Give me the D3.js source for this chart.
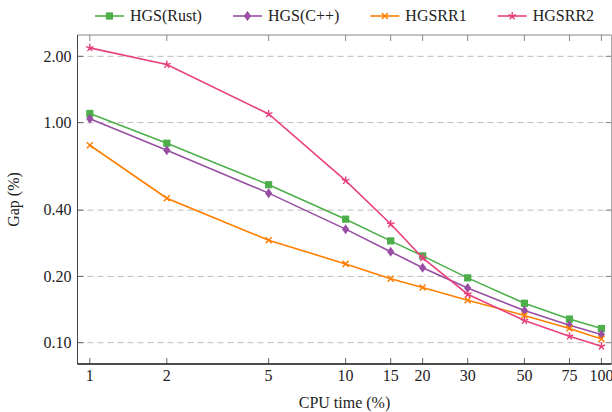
<!DOCTYPE html>
<html>
<head>
<meta charset="utf-8">
<script src="https://cdn.jsdelivr.net/npm/d3@7"></script>
<style>
  body { margin: 0; background: #fff; }
</style>
</head>
<body>
<div id="chart"></div>
<script>
// CPU time (%) on the x axis
var cpuTimes = [1, 2, 5, 10, 15, 20, 30, 50, 75, 100];
var xTickLabels = ["1", "2", "5", "10", "15", "20", "30", "50", "75", "100"];
var yTicks = [0.1, 0.2, 0.4, 1.0, 2.0];

var seriesNames = ["HGS(Rust)", "HGS(C++)", "HGSRR1", "HGSRR2"];
var gapRust = [1.10, 0.806, 0.522, 0.364, 0.290, 0.248, 0.197, 0.151, 0.128, 0.116];
var gapCpp = [1.04, 0.749, 0.478, 0.328, 0.259, 0.219, 0.177, 0.140, 0.120, 0.109];
var gapRR1 = [0.789, 0.453, 0.292, 0.228, 0.195, 0.178, 0.156, 0.133, 0.116, 0.104];
var gapRR2 = [2.185, 1.835, 1.095, 0.545, 0.346, 0.243, 0.166, 0.126, 0.107, 0.0963];

var colors = ["#4daf4a", "#984ea3", "#ff7f00", "#e8417f"];
var markers = ["square", "diamond", "x", "star"];

var series = [gapRust, gapCpp, gapRR1, gapRR2].map(function (vals, i) {
    return { name: seriesNames[i], color: colors[i], marker: markers[i],
             values: vals.map(function (v, j) { return { x: cpuTimes[j], y: v }; }) };
});

var W = 612, H = 412;
var margin = { left: 77.5, right: 0.5, top: 35, bottom: 48 };
var iw = W - margin.left - margin.right, ih = H - margin.top - margin.bottom;
var FONT = "'Liberation Serif', 'Times New Roman', serif";

var svg = d3.select("#chart").append("svg").attr("width", W).attr("height", H)
    .attr("font-family", FONT);
var g = svg.append("g").attr("transform", "translate(" + margin.left + "," + margin.top + ")");

var x = d3.scaleLog().domain([0.895, 109.5]).range([0, iw]);
var y = d3.scaleLog().domain([0.08, 2.5]).range([ih, 0]);

// grid
g.selectAll(".grid").data(yTicks).enter().append("line")
    .attr("x1", 0).attr("x2", iw)
    .attr("y1", function (d) { return y(d); }).attr("y2", function (d) { return y(d); })
    .attr("stroke", "#bdbdbd").attr("stroke-width", 1).attr("stroke-dasharray", "6,4");

// ticks (inside)
var tickLen = 6;
g.selectAll(".xtb").data(cpuTimes).enter().append("line")
    .attr("x1", function (d) { return x(d); }).attr("x2", function (d) { return x(d); })
    .attr("y1", ih).attr("y2", ih - tickLen).attr("stroke", "#666");
g.selectAll(".xtt").data(cpuTimes).enter().append("line")
    .attr("x1", function (d) { return x(d); }).attr("x2", function (d) { return x(d); })
    .attr("y1", 0).attr("y2", tickLen).attr("stroke", "#888");
g.selectAll(".ytl").data(yTicks).enter().append("line")
    .attr("x1", 0).attr("x2", tickLen)
    .attr("y1", function (d) { return y(d); }).attr("y2", function (d) { return y(d); }).attr("stroke", "#666");
g.selectAll(".ytr").data(yTicks).enter().append("line")
    .attr("x1", iw - tickLen).attr("x2", iw)
    .attr("y1", function (d) { return y(d); }).attr("y2", function (d) { return y(d); }).attr("stroke", "#888");

// frame
g.append("line").attr("x1", 0).attr("x2", iw).attr("y1", 0).attr("y2", 0).attr("stroke", "#888");
g.append("line").attr("x1", iw).attr("x2", iw).attr("y1", 0).attr("y2", ih).attr("stroke", "#aaa");
g.append("line").attr("x1", 0).attr("x2", 0).attr("y1", 0).attr("y2", ih).attr("stroke", "#444");
g.append("line").attr("x1", 0).attr("x2", iw).attr("y1", ih).attr("y2", ih).attr("stroke", "#111").attr("stroke-width", 1.3);

// tick labels
g.selectAll(".xl").data(cpuTimes).enter().append("text")
    .attr("x", function (d) { return x(d); }).attr("y", ih + 17)
    .attr("text-anchor", "middle").attr("font-size", 16).attr("fill", "#222")
    .text(function (d, i) { return xTickLabels[i]; });
g.selectAll(".yl").data(yTicks).enter().append("text")
    .attr("x", -6).attr("y", function (d) { return y(d); }).attr("dy", "0.33em")
    .attr("text-anchor", "end").attr("font-size", 16).attr("fill", "#222")
    .text(function (d) { return d3.format(".2f")(d); });

// axis titles
svg.append("text").attr("x", margin.left + iw / 2).attr("y", 408)
    .attr("text-anchor", "middle").attr("font-size", 16).attr("fill", "#222").text("CPU time (%)");
svg.append("text").attr("transform", "translate(19," + (margin.top + ih / 2) + ") rotate(-90)")
    .attr("text-anchor", "middle").attr("font-size", 16).attr("fill", "#222").text("Gap (%)");

function drawMarker(sel, type, color) {
    var r = 3.6;
    if (type === "square") {
        sel.append("rect").attr("x", -r).attr("y", -r).attr("width", 2 * r).attr("height", 2 * r).attr("fill", color);
    } else if (type === "diamond") {
        sel.append("path").attr("d", "M0,-5 L3.6,0 L0,5 L-3.6,0 Z").attr("fill", color);
    } else if (type === "x") {
        sel.append("path").attr("d", "M-3,-3 L3,3 M-3,3 L3,-3").attr("stroke", color).attr("stroke-width", 1.5);
    } else {
        var d = "";
        for (var k = 0; k < 5; k++) {
            var a = -Math.PI / 2 + k * 2 * Math.PI / 5;
            d += "M0,0 L" + (4 * Math.cos(a)).toFixed(2) + "," + (4 * Math.sin(a)).toFixed(2) + " ";
        }
        sel.append("path").attr("d", d).attr("stroke", color).attr("stroke-width", 1.4);
    }
}

var line = d3.line().x(function (d) { return x(d.x); }).y(function (d) { return y(d.y); });

series.forEach(function (s) {
    g.append("path").datum(s.values).attr("d", line)
        .attr("fill", "none").attr("stroke", s.color).attr("stroke-width", 1.6);
    s.values.forEach(function (p) {
        var m = g.append("g").attr("transform", "translate(" + x(p.x) + "," + y(p.y) + ")");
        drawMarker(m, s.marker, s.color);
    });
});

// legend
var legend = svg.append("g");
var cursor = 0;
series.forEach(function (s, i) {
    var e = legend.append("g").attr("transform", "translate(" + cursor + ",0)");
    e.append("line").attr("x1", 0).attr("x2", 29).attr("y1", 0).attr("y2", 0)
        .attr("stroke", s.color).attr("stroke-width", 1.6);
    drawMarker(e.append("g").attr("transform", "translate(14.5,0)"), s.marker, s.color);
    var t = e.append("text").attr("x", 35).attr("dy", "0.33em").attr("font-size", 16)
        .attr("fill", "#222").text(s.name);
    cursor += 35 + t.node().getComputedTextLength() + 31;
});
var legendW = cursor - 31;
legend.attr("transform", "translate(" + (margin.left + iw / 2 - legendW / 2) + ",16)");
</script>
</body>
</html>
